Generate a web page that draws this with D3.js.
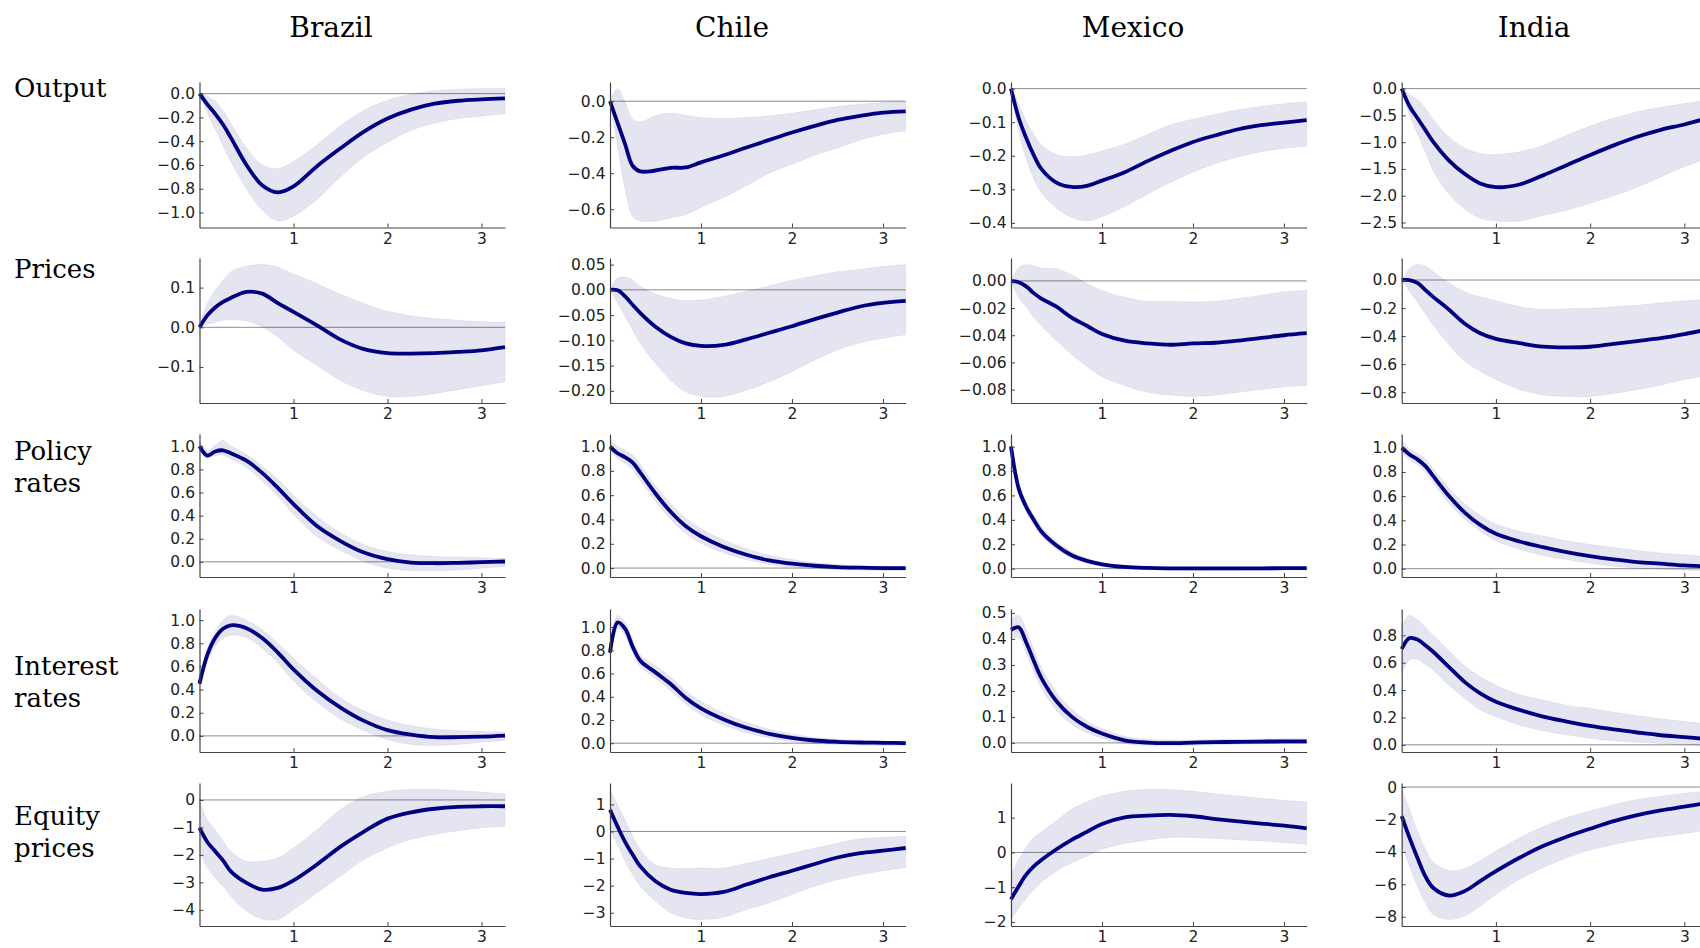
<!DOCTYPE html>
<html lang="en">

<head>
    <meta charset="UTF-8">
    <title>Impulse responses</title>
    <script src="https://d3js.org/d3.v7.min.js"></script>
    <style>
        body { margin: 0; background: #fff; }
    </style>
</head>

<body>
    <script>
        // horizon in months, plotted in years
        var months = [0, 1, 2, 3, 4, 6, 8, 10, 12, 15, 18, 21, 24, 27, 30, 33, 36, 39];
        var countries = ["Brazil", "Chile", "Mexico", "India"];
        var variables = [["Output"], ["Prices"], ["Policy", "rates"], ["Interest", "rates"], ["Equity", "prices"]];
        var xTicks = [1, 2, 3];

        //---------------- Brazil
        var brazilOutput = {
            irf: [0, -0.09, -0.17, -0.26, -0.37, -0.60, -0.77, -0.83, -0.78, -0.61, -0.46, -0.32, -0.21, -0.135, -0.085, -0.06, -0.048, -0.04],
            lower: [0, -0.16, -0.30, -0.44, -0.57, -0.80, -0.98, -1.07, -1.03, -0.89, -0.70, -0.53, -0.41, -0.31, -0.25, -0.21, -0.19, -0.17],
            upper: [0, -0.02, -0.065, -0.14, -0.25, -0.46, -0.60, -0.63, -0.57, -0.43, -0.27, -0.14, -0.056, -0.006, 0.025, 0.037, 0.042, 0.042],
            ticks: [0, -0.2, -0.4, -0.6, -0.8, -1.0]
        };
        var brazilPrices = {
            irf: [0, 0.030, 0.050, 0.064, 0.074, 0.089, 0.085, 0.061, 0.039, 0.005, -0.031, -0.055, -0.065, -0.066, -0.065, -0.062, -0.058, -0.050],
            lower: [0, 0.008, 0.013, 0.018, 0.019, 0.016, 0.001, -0.024, -0.058, -0.096, -0.134, -0.160, -0.174, -0.174, -0.167, -0.157, -0.147, -0.137],
            upper: [0, 0.06, 0.093, 0.118, 0.14, 0.154, 0.158, 0.152, 0.134, 0.11, 0.083, 0.06, 0.041, 0.029, 0.022, 0.018, 0.014, 0.013],
            ticks: [0.1, 0.0, -0.1]
        };
        var brazilPolicy = {
            irf: [1.0, 0.92, 0.955, 0.965, 0.94, 0.875, 0.77, 0.64, 0.50, 0.31, 0.18, 0.08, 0.023, -0.006, -0.012, -0.009, -0.003, 0.003],
            lower: [0.97, 0.895, 0.92, 0.925, 0.89, 0.817, 0.70, 0.565, 0.41, 0.22, 0.10, 0.003, -0.055, -0.075, -0.075, -0.07, -0.055, -0.04],
            upper: [1.05, 0.96, 1.01, 1.05, 1.005, 0.93, 0.83, 0.715, 0.575, 0.395, 0.25, 0.148, 0.09, 0.061, 0.047, 0.041, 0.035, 0.029],
            ticks: [0, 0.2, 0.4, 0.6, 0.8, 1.0]
        };
        var brazilInterest = {
            irf: [0.45, 0.70, 0.845, 0.925, 0.955, 0.93, 0.845, 0.72, 0.575, 0.39, 0.245, 0.13, 0.05, 0.011, -0.011, -0.011, -0.006, 0.003],
            lower: [0.43, 0.645, 0.775, 0.845, 0.87, 0.85, 0.76, 0.63, 0.475, 0.29, 0.146, 0.046, -0.034, -0.074, -0.083, -0.074, -0.054, -0.04],
            upper: [0.47, 0.76, 0.9, 1.0, 1.04, 1.0, 0.917, 0.80, 0.67, 0.49, 0.33, 0.217, 0.137, 0.089, 0.06, 0.046, 0.04, 0.031],
            ticks: [0, 0.2, 0.4, 0.6, 0.8, 1.0]
        };
        var brazilEquity = {
            irf: [-1.02, -1.53, -1.87, -2.2, -2.6, -3.02, -3.26, -3.2, -2.93, -2.35, -1.70, -1.15, -0.68, -0.45, -0.32, -0.25, -0.23, -0.23],
            lower: [-1.8, -2.47, -2.84, -3.14, -3.5, -4.05, -4.33, -4.35, -3.99, -3.38, -2.78, -2.17, -1.75, -1.44, -1.26, -1.12, -1.02, -0.96],
            upper: [-0.05, -0.72, -1.08, -1.5, -1.87, -2.23, -2.23, -2.1, -1.75, -1.08, -0.35, 0.13, 0.32, 0.38, 0.38, 0.34, 0.29, 0.22],
            ticks: [0, -1, -2, -3, -4]
        };

        //---------------- Chile
        var chileOutput = {
            irf: [0, -0.12, -0.24, -0.36, -0.39, -0.385, -0.37, -0.368, -0.34, -0.30, -0.257, -0.215, -0.174, -0.137, -0.104, -0.081, -0.063, -0.056],
            lower: [0, -0.25, -0.49, -0.64, -0.665, -0.665, -0.65, -0.63, -0.59, -0.535, -0.47, -0.40, -0.35, -0.30, -0.26, -0.215, -0.183, -0.165],
            upper: [0, 0.07, -0.007, -0.1, -0.115, -0.08, -0.067, -0.078, -0.09, -0.096, -0.09, -0.081, -0.067, -0.048, -0.03, -0.017, -0.007, -0.004],
            ticks: [0, -0.2, -0.4, -0.6]
        };
        var chilePrices = {
            irf: [0, -0.001, -0.013, -0.03, -0.046, -0.073, -0.093, -0.106, -0.111, -0.109, -0.098, -0.085, -0.072, -0.058, -0.045, -0.033, -0.026, -0.022],
            lower: [0, -0.026, -0.053, -0.08, -0.106, -0.146, -0.179, -0.202, -0.211, -0.211, -0.199, -0.182, -0.162, -0.139, -0.119, -0.105, -0.096, -0.089],
            upper: [0, 0.023, 0.025, 0.02, 0.007, -0.008, -0.017, -0.021, -0.02, -0.013, -0.003, 0.008, 0.019, 0.028, 0.036, 0.041, 0.046, 0.05],
            ticks: [0.05, 0, -0.05, -0.10, -0.15, -0.20]
        };
        var chilePolicy = {
            irf: [1.0, 0.945, 0.912, 0.868, 0.785, 0.614, 0.463, 0.344, 0.262, 0.174, 0.11, 0.063, 0.036, 0.019, 0.008, 0.003, 0.0, 0.0],
            lower: [0.97, 0.9, 0.86, 0.81, 0.72, 0.55, 0.40, 0.285, 0.205, 0.125, 0.07, 0.03, 0.008, -0.006, -0.014, -0.018, -0.02, -0.02],
            upper: [1.05, 1.0, 0.97, 0.93, 0.85, 0.68, 0.53, 0.41, 0.325, 0.23, 0.16, 0.105, 0.07, 0.045, 0.03, 0.02, 0.015, 0.012],
            ticks: [0, 0.2, 0.4, 0.6, 0.8, 1.0]
        };
        var chileInterest = {
            irf: [0.78, 1.04, 0.985, 0.83, 0.71, 0.61, 0.51, 0.39, 0.30, 0.205, 0.133, 0.081, 0.046, 0.023, 0.012, 0.006, 0.003, 0.0],
            lower: [0.74, 0.99, 0.93, 0.78, 0.66, 0.56, 0.45, 0.335, 0.245, 0.155, 0.09, 0.045, 0.015, -0.004, -0.012, -0.017, -0.02, -0.02],
            upper: [0.82, 1.1, 1.04, 0.89, 0.76, 0.67, 0.57, 0.45, 0.36, 0.26, 0.18, 0.12, 0.08, 0.05, 0.035, 0.025, 0.02, 0.015],
            ticks: [0, 0.2, 0.4, 0.6, 0.8, 1.0]
        };
        var chileEquity = {
            irf: [0.8, 0.18, -0.39, -0.86, -1.29, -1.84, -2.15, -2.27, -2.31, -2.23, -1.96, -1.69, -1.45, -1.2, -0.96, -0.8, -0.71, -0.61],
            lower: [0.05, -0.49, -1.1, -1.6, -2.02, -2.58, -3.0, -3.19, -3.25, -3.17, -2.88, -2.64, -2.33, -2.02, -1.78, -1.6, -1.45, -1.33],
            upper: [1.55, 0.98, 0.43, -0.18, -0.67, -1.23, -1.35, -1.37, -1.35, -1.35, -1.17, -1.0, -0.8, -0.61, -0.43, -0.27, -0.22, -0.18],
            ticks: [1, 0, -1, -2, -3]
        };

        //---------------- Mexico
        var mexicoOutput = {
            irf: [0, -0.086, -0.147, -0.198, -0.239, -0.28, -0.293, -0.29, -0.274, -0.249, -0.216, -0.186, -0.159, -0.139, -0.121, -0.109, -0.101, -0.094],
            lower: [0, -0.127, -0.208, -0.269, -0.31, -0.356, -0.384, -0.394, -0.382, -0.351, -0.315, -0.28, -0.249, -0.223, -0.203, -0.188, -0.178, -0.172],
            upper: [0, -0.045, -0.096, -0.137, -0.167, -0.196, -0.203, -0.198, -0.186, -0.165, -0.137, -0.108, -0.091, -0.076, -0.063, -0.053, -0.045, -0.04],
            ticks: [0, -0.1, -0.2, -0.3, -0.4]
        };
        var mexicoPrices = {
            irf: [0, -0.001, -0.004, -0.009, -0.013, -0.019, -0.027, -0.033, -0.039, -0.044, -0.046, -0.047, -0.046, -0.0455, -0.044, -0.042, -0.040, -0.0385],
            lower: [0, -0.012, -0.019, -0.027, -0.033, -0.044, -0.054, -0.063, -0.0705, -0.077, -0.082, -0.084, -0.085, -0.084, -0.082, -0.080, -0.078, -0.077],
            upper: [0, 0.0095, 0.012, 0.011, 0.0095, 0.009, 0.0045, -0.002, -0.007, -0.012, -0.015, -0.015, -0.0155, -0.015, -0.013, -0.0105, -0.008, -0.007],
            ticks: [0, -0.02, -0.04, -0.06, -0.08]
        };
        var mexicoPolicy = {
            irf: [1.0, 0.66, 0.507, 0.40, 0.305, 0.19, 0.11, 0.064, 0.036, 0.014, 0.006, 0.003, 0.002, 0.002, 0.003, 0.003, 0.004, 0.004],
            lower: [0.95, 0.61, 0.465, 0.36, 0.27, 0.16, 0.085, 0.045, 0.02, 0.002, -0.008, -0.012, -0.015, -0.015, -0.014, -0.013, -0.012, -0.012],
            upper: [1.05, 0.71, 0.55, 0.44, 0.345, 0.225, 0.14, 0.085, 0.052, 0.025, 0.013, 0.009, 0.008, 0.008, 0.008, 0.009, 0.009, 0.01],
            ticks: [0, 0.2, 0.4, 0.6, 0.8, 1.0]
        };
        var mexicoInterest = {
            irf: [0.435, 0.445, 0.387, 0.316, 0.25, 0.16, 0.101, 0.062, 0.036, 0.01, 0.001, -0.001, 0.001, 0.003, 0.004, 0.005, 0.006, 0.006],
            lower: [0.4, 0.405, 0.345, 0.275, 0.21, 0.125, 0.072, 0.04, 0.018, -0.002, -0.009, -0.01, -0.009, -0.007, -0.005, -0.004, -0.003, -0.003],
            upper: [0.475, 0.49, 0.435, 0.36, 0.29, 0.195, 0.13, 0.085, 0.055, 0.025, 0.014, 0.011, 0.012, 0.013, 0.014, 0.015, 0.016, 0.016],
            ticks: [0, 0.1, 0.2, 0.3, 0.4, 0.5]
        };
        var mexicoEquity = {
            irf: [-1.35, -0.98, -0.64, -0.4, -0.22, 0.09, 0.36, 0.59, 0.82, 1.01, 1.06, 1.08, 1.04, 0.96, 0.89, 0.83, 0.77, 0.69],
            lower: [-1.93, -1.61, -1.32, -1.08, -0.86, -0.54, -0.3, -0.11, 0.09, 0.26, 0.36, 0.43, 0.43, 0.4, 0.36, 0.33, 0.28, 0.23],
            upper: [-0.65, -0.2, 0.14, 0.43, 0.59, 0.91, 1.25, 1.45, 1.62, 1.76, 1.81, 1.81, 1.76, 1.69, 1.62, 1.56, 1.5, 1.45],
            ticks: [1, 0, -1, -2]
        };

        //---------------- India
        var indiaOutput = {
            irf: [0, -0.33, -0.55, -0.77, -0.99, -1.34, -1.59, -1.77, -1.84, -1.79, -1.62, -1.43, -1.24, -1.06, -0.90, -0.77, -0.67, -0.55],
            lower: [0, -0.49, -0.84, -1.18, -1.53, -1.97, -2.25, -2.42, -2.47, -2.47, -2.37, -2.27, -2.14, -2.0, -1.84, -1.65, -1.46, -1.3],
            upper: [0, -0.11, -0.21, -0.36, -0.58, -0.9, -1.11, -1.21, -1.23, -1.18, -1.06, -0.87, -0.70, -0.55, -0.43, -0.35, -0.28, -0.21],
            ticks: [0, -0.5, -1.0, -1.5, -2.0, -2.5]
        };
        var indiaPrices = {
            irf: [0, 0, -0.02, -0.07, -0.12, -0.21, -0.31, -0.38, -0.42, -0.45, -0.475, -0.48, -0.476, -0.455, -0.435, -0.415, -0.386, -0.352],
            lower: [0, -0.083, -0.155, -0.24, -0.32, -0.46, -0.58, -0.65, -0.71, -0.78, -0.82, -0.83, -0.83, -0.81, -0.78, -0.75, -0.71, -0.68],
            upper: [0, 0.083, 0.11, 0.1, 0.06, -0.019, -0.083, -0.12, -0.148, -0.19, -0.21, -0.205, -0.202, -0.19, -0.18, -0.162, -0.148, -0.138],
            ticks: [0, -0.2, -0.4, -0.6, -0.8]
        };
        var indiaPolicy = {
            irf: [1.0, 0.945, 0.904, 0.85, 0.767, 0.603, 0.466, 0.362, 0.288, 0.225, 0.178, 0.137, 0.104, 0.077, 0.055, 0.041, 0.027, 0.019],
            lower: [0.96, 0.9, 0.86, 0.8, 0.71, 0.54, 0.41, 0.31, 0.23, 0.16, 0.11, 0.075, 0.045, 0.02, 0.005, -0.005, -0.012, -0.015],
            upper: [1.06, 0.99, 0.955, 0.91, 0.83, 0.67, 0.54, 0.44, 0.37, 0.31, 0.27, 0.23, 0.2, 0.175, 0.15, 0.13, 0.115, 0.1],
            ticks: [0, 0.2, 0.4, 0.6, 0.8, 1.0]
        };
        var indiaInterest = {
            irf: [0.70, 0.78, 0.77, 0.727, 0.68, 0.57, 0.46, 0.376, 0.315, 0.255, 0.206, 0.17, 0.138, 0.112, 0.09, 0.07, 0.056, 0.041],
            lower: [0.52, 0.62, 0.625, 0.587, 0.545, 0.436, 0.34, 0.255, 0.206, 0.145, 0.102, 0.073, 0.048, 0.029, 0.019, 0.01, 0, -0.005],
            upper: [0.88, 0.945, 0.915, 0.86, 0.8, 0.69, 0.58, 0.497, 0.436, 0.368, 0.327, 0.29, 0.267, 0.238, 0.213, 0.19, 0.17, 0.15],
            ticks: [0, 0.2, 0.4, 0.6, 0.8]
        };
        var indiaEquity = {
            irf: [-1.79, -3.13, -4.36, -5.49, -6.21, -6.69, -6.42, -5.8, -5.19, -4.36, -3.64, -3.07, -2.57, -2.1, -1.73, -1.44, -1.21, -0.97],
            lower: [-3.54, -4.88, -6.11, -7.14, -7.86, -8.17, -7.96, -7.35, -6.63, -5.7, -4.98, -4.36, -3.89, -3.54, -3.27, -3.07, -2.86, -2.65],
            upper: [-0.15, -1.38, -2.72, -3.81, -4.63, -5.14, -5.04, -4.53, -3.95, -3.13, -2.45, -1.89, -1.48, -1.07, -0.76, -0.56, -0.39, -0.25],
            ticks: [0, -2, -4, -6, -8]
        };

        // rows = variables, columns = countries
        var panels = [
            [brazilOutput, chileOutput, mexicoOutput, indiaOutput],
            [brazilPrices, chilePrices, mexicoPrices, indiaPrices],
            [brazilPolicy, chilePolicy, mexicoPolicy, indiaPolicy],
            [brazilInterest, chileInterest, mexicoInterest, indiaInterest],
            [brazilEquity, chileEquity, mexicoEquity, indiaEquity]
        ];

        // layout
        var w = 1700,
            h = 948;
        var colLeft = [199.5, 610, 1011, 1401.7],
            colWidth = [305.5, 295.7, 295.7, 306.2],
            titleX = [331, 732, 1133, 1534];
        var rowTop = [82, 258, 434, 609, 783],
            rowBottom = [227.5, 403, 577, 752, 926],
            labelY = [97.3, 278.3, 460, 675, 825];

        var navy = "#000080";
        var tickFont = "'DejaVu Sans', sans-serif",
            titleFont = "'DejaVu Serif', serif";

        var svg = d3.select("body").append("svg")
            .attr("width", w)
            .attr("height", h);

        // column titles
        svg.selectAll("text.title")
            .data(countries)
            .enter()
            .append("text")
            .attr("class", "title")
            .attr("x", function(d, i) { return titleX[i]; })
            .attr("y", 37)
            .attr("text-anchor", "middle")
            .attr("font-family", titleFont)
            .attr("font-size", 28)
            .attr("fill", "#000")
            .text(function(d) { return d; });

        // row labels
        variables.forEach(function(lines, r) {
            var t = svg.append("text")
                .attr("x", 14)
                .attr("y", labelY[r])
                .attr("font-family", titleFont)
                .attr("font-size", 26)
                .attr("fill", "#000");
            lines.forEach(function(s, k) {
                t.append("tspan")
                    .attr("x", 14)
                    .attr("dy", k === 0 ? 0 : 32)
                    .text(s);
            });
        });

        var years = months.map(function(m) { return m / 12; });
        var curve = d3.curveCatmullRom.alpha(0.5);

        panels.forEach(function(row, r) {
            row.forEach(function(p, c) {
                var g = svg.append("g");

                var x = d3.scaleLinear()
                    .domain([0, 3.25])
                    .range([colLeft[c], colLeft[c] + colWidth[c]]);

                // matplotlib-like autoscale: 5% margin around band
                var all = p.lower.concat(p.upper, p.irf);
                var lo = d3.min(all),
                    hi = d3.max(all),
                    pad = (hi - lo) * 0.05;
                var y = d3.scaleLinear()
                    .domain([lo - pad, hi + pad])
                    .range([rowBottom[r], rowTop[r]]);

                var band = d3.area()
                    .x(function(d, i) { return x(years[i]); })
                    .y0(function(d, i) { return y(p.lower[i]); })
                    .y1(function(d, i) { return y(p.upper[i]); })
                    .curve(curve);

                var line = d3.line()
                    .x(function(d, i) { return x(years[i]); })
                    .y(function(d) { return y(d); })
                    .curve(curve);

                g.append("path")
                    .attr("d", band(p.irf))
                    .attr("fill", navy)
                    .attr("fill-opacity", 0.1)
                    .attr("stroke", navy)
                    .attr("stroke-opacity", 0.06)
                    .attr("stroke-width", 1);

                // zero line
                g.append("line")
                    .attr("x1", x(0))
                    .attr("x2", x(3.25))
                    .attr("y1", y(0))
                    .attr("y2", y(0))
                    .attr("stroke", "#000")
                    .attr("stroke-opacity", 0.5)
                    .attr("stroke-width", 0.9);

                g.append("path")
                    .attr("d", line(p.irf))
                    .attr("fill", "none")
                    .attr("stroke", navy)
                    .attr("stroke-width", 3.8)
                    .attr("stroke-linejoin", "round")
                    .attr("stroke-linecap", "butt");

                // axes, ticks pointing inwards
                var dec = d3.max(p.ticks, function(v) {
                    var s = String(v).split(".")[1];
                    return s ? s.length : 0;
                });

                var yAxis = d3.axisLeft(y)
                    .tickValues(p.ticks)
                    .tickFormat(d3.format("." + dec + "f"))
                    .tickSizeInner(-4)
                    .tickSizeOuter(0)
                    .tickPadding(4.5);

                var xAxis = d3.axisBottom(x)
                    .tickValues(xTicks)
                    .tickFormat(d3.format("d"))
                    .tickSizeInner(-4)
                    .tickSizeOuter(0)
                    .tickPadding(5);

                var ya = g.append("g")
                    .attr("transform", "translate(" + x(0) + ",0)")
                    .call(yAxis);
                var xa = g.append("g")
                    .attr("transform", "translate(0," + rowBottom[r] + ")")
                    .call(xAxis);

                [ya, xa].forEach(function(a) {
                    a.attr("font-family", tickFont).attr("font-size", 15.5);
                    a.select(".domain").attr("stroke", "#444").attr("stroke-width", 1.2);
                    a.selectAll(".tick line").attr("stroke", "#444").attr("stroke-width", 1);
                    a.selectAll(".tick text").attr("fill", "#222");
                });
            });
        });
    </script>
</body>

</html>
